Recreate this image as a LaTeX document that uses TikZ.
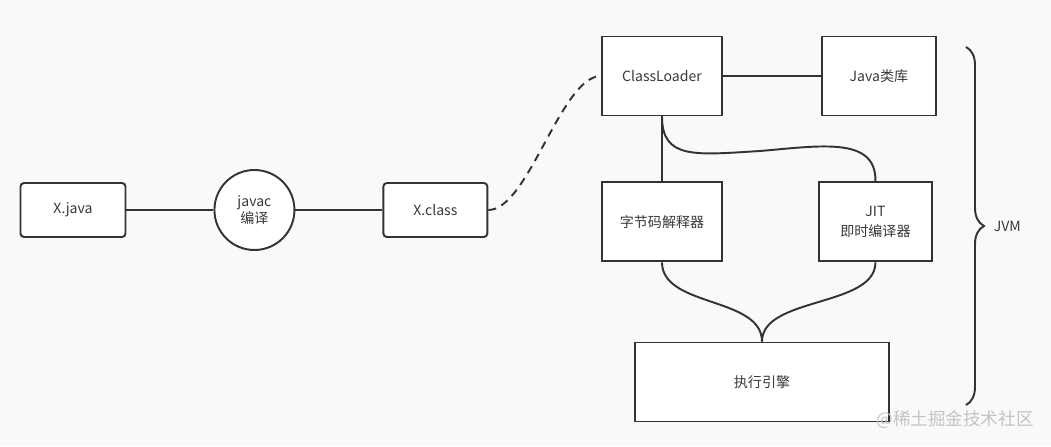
\documentclass[tikz,border=0pt]{standalone}
\usepackage{fontspec}
\setmainfont{Noto Sans CJK SC}
\definecolor{edgeGray}{HTML}{333333}
\definecolor{inkGray}{HTML}{3A3A3A}
\definecolor{paperGray}{HTML}{F9F9F9}
\definecolor{markGray}{HTML}{C4C4C4}
\usetikzlibrary{positioning,decorations.pathreplacing}

\begin{document}
\begin{tikzpicture}[
  box/.style={draw=edgeGray, fill=white, line width=1.1pt, rounded corners=2pt,
              font=\footnotesize, text=inkGray, align=center,
              minimum width=2.1cm, minimum height=1.08cm, inner sep=2pt},
  proc/.style={draw=edgeGray, fill=white, line width=1.1pt, circle,
               font=\footnotesize, text=inkGray, align=center,
               minimum size=1.6cm, inner sep=0pt},
  blk/.style={draw=edgeGray, fill=white, line width=1.1pt,
              font=\footnotesize, text=inkGray, align=center,
              minimum width=2.4cm, minimum height=1.58cm, inner sep=2pt},
  link/.style={edgeGray, line width=1.1pt},
  dashlink/.style={edgeGray, line width=1.1pt, dash pattern=on 0.16cm off 0.12cm},
  jvmbrace/.style={edgeGray, line width=1.1pt,
                   decorate, decoration={brace, amplitude=0.36cm}}
]
\fill[paperGray] (0,0) rectangle (21.02,8.92);
\useasboundingbox (0,0) rectangle (21.02,8.92);

\node[box] (xjava) at (1.46,4.72) {X.java};
\node[proc, right=1.74cm of xjava] (javac) {javac\\编译};
\node[box, minimum width=2.08cm, right=1.74cm of javac] (xclass) {X.class};
\node[blk] (loader) at (13.24,7.40) {ClassLoader};
\node[blk, minimum width=2.28cm, right=1.96cm of loader] (javalib) {Java类库};
\node[blk, below=1.3cm of loader] (interp) {字节码解释器};
\node[blk, minimum width=2.26cm, right=1.9cm of interp] (jit) {JIT\\[1.5pt]即时编译器};
\node[blk, minimum width=5.08cm] (engine) at (15.24,1.28) {执行引擎};

\coordinate (jvmtop) at (19.32,7.98);
\coordinate (jvmbot) at (19.32,0.82);
\node[font=\fontsize{10pt}{12pt}\selectfont, text=markGray] (mark) at (19.1,0.52) {@稀土掘金技术社区};

\draw[link] (xjava) -- (javac);
\draw[link] (javac) -- (xclass);
\draw[dashlink] (xclass.east) .. controls +(0.8,0) and +(-0.8,0) .. (loader.west);
\draw[link] (loader) -- (javalib);
\draw[link] (loader) -- (interp);
\draw[link] (loader.south) .. controls +(0,-0.86) and (13.9,5.82) .. (15.2,5.90)
  .. controls (16.4,6.0) and (17.53,6.2) .. (jit.north);
\draw[link] (interp.south) .. controls +(0,-0.9) and +(0,0.9) .. (engine.north);
\draw[link] (jit.south) .. controls +(0,-0.9) and +(0,0.9) .. (engine.north);
\draw[jvmbrace] (jvmtop) -- node[right=0.42cm, font=\footnotesize, text=inkGray] (jvm) {JVM} (jvmbot);
\end{tikzpicture}
\end{document}
